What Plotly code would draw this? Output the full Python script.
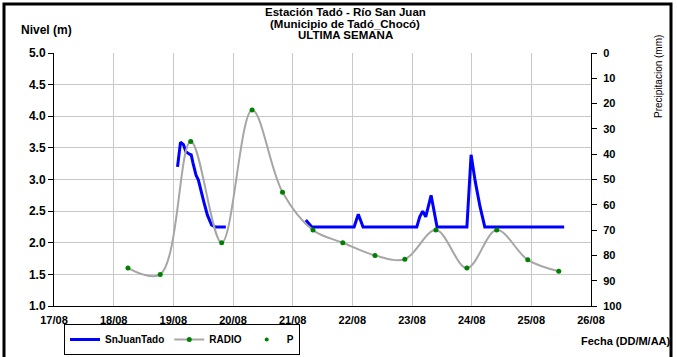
import pandas as pd
import plotly.graph_objects as go

# Nivel SnJuanTado (m)
sn_fecha = ["2023-08-19 01:41", "2023-08-19 02:53", "2023-08-19 04:05", "2023-08-19 05:02",
            "2023-08-19 06:29", "2023-08-19 07:12", "2023-08-19 07:55", "2023-08-19 09:07",
            "2023-08-19 10:05", "2023-08-19 11:02", "2023-08-19 12:14", "2023-08-19 13:41",
            "2023-08-19 15:22", "2023-08-19 16:48", "2023-08-19 21:07", "2023-08-20 12:00",
            "2023-08-21 05:17", "2023-08-21 06:58", "2023-08-21 07:41", "2023-08-22 00:43",
            "2023-08-22 02:24", "2023-08-22 04:19", "2023-08-23 01:55", "2023-08-23 03:07",
            "2023-08-23 04:19", "2023-08-23 05:31", "2023-08-23 07:41", "2023-08-23 10:05",
            "2023-08-23 22:05", "2023-08-23 23:46", "2023-08-24 01:26", "2023-08-24 03:22",
            "2023-08-24 05:17", "2023-08-25 13:12"]
sn_nivel = [3.20, 3.59, 3.55, 3.44, 3.40, 3.39, 3.26, 3.07, 2.99, 2.83, 2.65, 2.44,
            2.28, 2.25, 2.25, None, 2.36, 2.27, 2.25, 2.25, 2.45, 2.25, 2.25, 2.41,
            2.50, 2.41, 2.75, 2.25, 2.25, 3.39, 2.97, 2.57, 2.25, 2.25]

# Nivel RADIO (m)
radio_fecha = ["2023-08-18 05:45", "2023-08-18 18:43", "2023-08-19 07:00", "2023-08-19 19:26",
               "2023-08-20 07:41", "2023-08-20 19:55", "2023-08-21 08:10", "2023-08-21 20:10",
               "2023-08-22 09:07", "2023-08-22 21:07", "2023-08-23 09:36", "2023-08-23 22:05",
               "2023-08-24 10:05", "2023-08-24 22:34", "2023-08-25 11:02"]
radio_nivel = [1.6, 1.5, 3.6, 2.0, 4.1, 2.8, 2.2, 2.0, 1.8, 1.74, 2.2, 1.6, 2.2, 1.73, 1.55]

# Precipitacion P (mm) - sin datos en la semana
p_fecha = [None]
p_mm = [None]

titulo = ["Estación Tadó - Río San Juan", "(Municipio de Tadó_Chocó)", "ULTIMA SEMANA"]

sn_fecha = pd.to_datetime(pd.Series(sn_fecha))
radio_fecha = pd.to_datetime(pd.Series(radio_fecha))

FONT = "Liberation Sans, Arial, sans-serif"

fig = go.Figure()
fig.add_trace(go.Scatter(x=sn_fecha, y=sn_nivel, name="SnJuanTado", mode="lines",
                         line=dict(color="#0000ff", width=3), connectgaps=False))
fig.add_trace(go.Scatter(x=radio_fecha, y=radio_nivel, name="RADIO", mode="lines+markers",
                         line=dict(color="#a6a6a6", width=2, shape="spline", smoothing=1),
                         marker=dict(color="#008000", size=5)))
fig.add_trace(go.Scatter(x=p_fecha, y=p_mm, name="P", mode="markers", yaxis="y2",
                         marker=dict(color="#008000", size=4)))

# plot area in pixels: x 54..591, y 53..306
L, R, T, B = 54, 591, 53, 306
W, H = 677, 357
def px(x):
    return (x - L) / (R - L)
def py(y):
    return (B - y) / (B - T)

fig.update_layout(
    width=W, height=H,
    margin=dict(l=L, r=W - R, t=T, b=H - B, autoexpand=False),
    plot_bgcolor="white", paper_bgcolor="white",
    font=dict(family=FONT, size=11, color="black"),
    showlegend=True,
    legend=dict(orientation="h", x=px(64), y=py(324), xanchor="left", yanchor="top",
                bordercolor="black", borderwidth=1, bgcolor="white",
                font=dict(size=10, weight="bold"), tracegroupgap=0, itemwidth=30),
    xaxis=dict(type="date", range=["2023-08-17", "2023-08-26"], dtick=86400000,
               tickformat="%d/%m", showgrid=True, gridcolor="#c8c8c8", gridwidth=1,
               showline=True, linecolor="black", linewidth=1, ticks="",
               ticklabelstandoff=4,
               tickfont=dict(size=11, weight="bold"), zeroline=False),
    yaxis=dict(range=[1, 5], dtick=0.5, tickformat=".1f", showgrid=True,
               gridcolor="#c8c8c8", gridwidth=1, showline=True, linecolor="black",
               linewidth=1, ticks="outside", ticklen=5, tickcolor="black",
               tickfont=dict(size=12, weight="bold"), zeroline=False),
    yaxis2=dict(overlaying="y", side="right", range=[100, 0], dtick=10,
                showgrid=False, showline=True, linecolor="black", linewidth=1,
                ticks="outside", ticklen=5, tickcolor="black", ticklabelstandoff=4,
                tickfont=dict(size=11, weight="bold"), zeroline=False),
)

for i, linea in enumerate(titulo):
    fig.add_annotation(text="<b>" + linea + "</b>", x=px(345), y=py(12 + 11.5 * i),
                       xref="paper", yref="paper", xanchor="center", yanchor="middle",
                       showarrow=False, font=dict(size=11.5))
fig.add_annotation(text="<b>Nivel (m)</b>", x=px(19), y=py(30), xref="paper", yref="paper",
                   xanchor="left", yanchor="middle", showarrow=False, font=dict(size=12))
fig.add_annotation(text="Precipitacion (mm)", x=px(658), y=py(77), xref="paper", yref="paper",
                   xanchor="center", yanchor="middle", textangle=-90, showarrow=False,
                   font=dict(size=10))
fig.add_annotation(text="<b>Fecha (DD/M/AA)</b>", x=px(673), y=py(341), xref="paper",
                   yref="paper", xanchor="right", yanchor="middle", showarrow=False,
                   font=dict(size=11))

# marco exterior
fig.add_shape(type="rect", xref="paper", yref="paper", x0=px(4), x1=px(671), y0=py(362),
              y1=py(4), line=dict(color="black", width=3), layer="above")

fig.write_html("out.html", config={"displayModeBar": False},
               post_script="document.body.style.margin='0';")
